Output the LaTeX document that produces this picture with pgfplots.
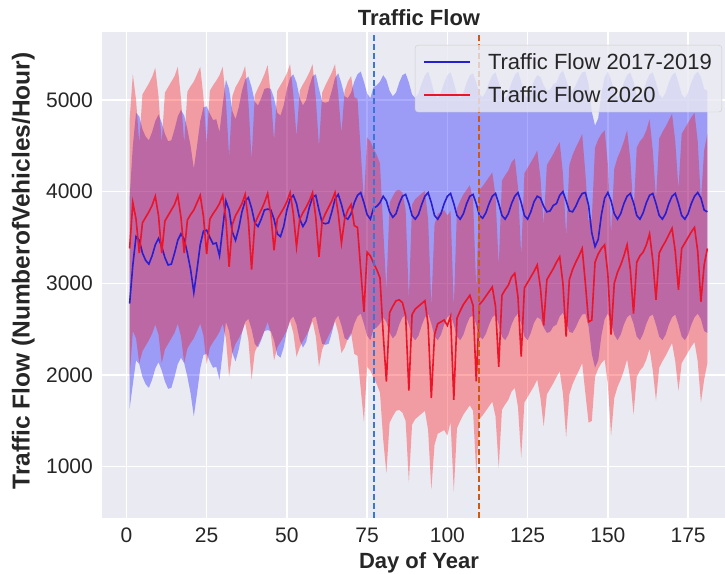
\documentclass[border=0pt]{standalone}
\usepackage{fontspec}
\setmainfont{Liberation Sans}
\usepackage{pgfplots}
\usepackage{pgfplotstable}
\pgfplotsset{compat=1.18}
\usepgfplotslibrary{fillbetween}

\definecolor{bgc}{HTML}{EAEAF2}
\definecolor{vblue}{RGB}{58,118,216}
\definecolor{vorange}{RGB}{205,90,20}
\definecolor{txt}{RGB}{38,38,38}
\definecolor{meanblue}{RGB}{40,30,210}
\definecolor{meanred}{RGB}{235,20,40}

% d: day of year, bm/bs: 2017-2019 mean and std, rm/rs: 2020 mean and std
\pgfplotstableread{
d bm bs rm rs
1 2780 1150 3380 1400
2 3200 1300 3880 1400
3 3510 1350 3700 1300
4 3470 1350 3330 1200
5 3330 1350 3660 1400
6 3250 1350 3720 1400
7 3210 1350 3780 1400
8 3300 1350 3850 1400
9 3420 1350 3950 1400
10 3490 1350 3740 1300
11 3400 1350 3330 1200
12 3280 1350 3680 1400
13 3200 1350 3740 1400
14 3210 1350 3800 1400
15 3330 1350 3860 1400
16 3470 1350 3960 1400
17 3540 1350 3720 1300
18 3480 1350 3330 1200
19 3330 1350 3690 1400
20 3150 1350 3750 1400
21 2900 1350 3800 1400
22 3150 1350 3880 1400
23 3420 1350 3960 1400
24 3570 1350 3730 1300
25 3580 1350 3320 1200
26 3500 1350 3700 1400
27 3430 1350 3760 1400
28 3440 1350 3810 1400
29 3300 1350 3870 1400
30 3600 1350 3960 1400
31 3900 1320 3700 1300
32 3800 1320 3180 1200
33 3560 1320 3640 1400
34 3470 1320 3740 1400
35 3600 1320 3800 1400
36 3780 1320 3870 1400
37 3900 1320 3970 1400
38 3935 1320 3680 1300
39 3820 1320 3150 1200
40 3660 1320 3650 1400
41 3620 1320 3730 1400
42 3700 1320 3800 1400
43 3800 1320 3880 1400
44 3810 1320 3980 1400
45 3800 1320 3750 1300
46 3700 1320 3360 1200
47 3540 1320 3700 1400
48 3510 1320 3760 1400
49 3620 1320 3820 1400
50 3800 1320 3890 1400
51 3920 1320 3990 1400
52 3960 1320 3760 1300
53 3870 1320 3400 1200
54 3700 1320 3700 1400
55 3620 1320 3770 1400
56 3680 1320 3830 1400
57 3830 1320 3900 1400
58 3940 1320 3990 1400
59 3960 1320 3720 1300
60 3800 1320 3290 1200
61 3660 1320 3680 1400
62 3650 1320 3760 1400
63 3660 1320 3830 1400
64 3780 1320 3900 1400
65 3920 1320 3990 1400
66 3970 1320 3760 1300
67 3860 1320 3440 1200
68 3720 1320 3700 1400
69 3700 1320 3800 1400
70 3760 1320 3860 1400
71 3880 1320 3630 1400
72 3960 1320 3610 1400
73 3990 1320 3150 1300
74 3880 1320 2690 1200
75 3750 1320 3340 1250
76 3700 1320 3300 1250
77 3820 1320 3220 1250
78 3840 1320 3150 1250
79 3880 1320 3060 1250
80 3950 1320 2450 1150
81 3900 1320 1930 1000
82 3780 1320 2680 1200
83 3720 1320 2750 1200
84 3760 1320 2810 1200
85 3870 1320 2820 1200
86 3950 1320 2790 1200
87 3970 1320 2650 1150
88 3870 1320 1830 1000
89 3740 1320 2660 1200
90 3700 1320 2720 1200
91 3750 1320 2750 1200
92 3860 1320 2780 1200
93 3950 1320 2810 1200
94 3990 1320 2550 1150
95 3880 1320 1750 1000
96 3740 1320 2440 1200
97 3700 1320 2560 1200
98 3760 1320 2580 1200
99 3870 1320 2600 1200
100 3950 1320 2540 1200
101 3980 1320 2640 1150
102 3870 1320 1730 1000
103 3740 1320 2620 1200
104 3700 1320 2700 1200
105 3760 1320 2770 1200
106 3870 1320 2820 1200
107 3950 1320 2870 1200
108 3970 1320 2760 1150
109 3870 1320 1930 1000
110 3740 1320 2770 1250
111 3710 1320 2810 1250
112 3770 1320 2860 1250
113 3870 1320 2910 1250
114 3950 1320 2960 1250
115 3980 1320 2750 1200
116 3870 1320 2090 1100
117 3740 1320 2870 1250
118 3700 1320 2930 1250
119 3760 1320 2980 1250
120 3870 1320 3070 1250
121 3950 1320 3110 1250
122 3990 1320 2850 1200
123 3880 1320 2200 1100
124 3740 1320 2950 1250
125 3700 1320 3010 1250
126 3780 1320 3070 1250
127 3890 1320 3130 1250
128 3950 1320 3200 1250
129 3930 1320 2950 1200
130 3840 1320 2540 1100
131 3780 1320 3040 1250
132 3790 1320 3100 1250
133 3850 1320 3160 1250
134 3870 1320 3230 1250
135 3960 1320 3290 1250
136 4000 1320 3000 1200
137 3900 1320 2420 1100
138 3790 1320 3040 1250
139 3780 1320 3150 1250
140 3840 1320 3230 1250
141 3920 1320 3300 1250
142 3980 1320 3380 1250
143 3990 1320 3000 1200
144 3850 1320 2580 1100
145 3550 1320 2600 1100
146 3400 1320 3230 1250
147 3480 1320 3320 1250
148 3750 1320 3380 1250
149 3930 1320 3420 1250
150 3990 1320 3100 1200
151 3900 1320 2440 1100
152 3760 1320 3000 1250
153 3700 1320 3120 1250
154 3760 1320 3200 1250
155 3870 1320 3300 1250
156 3950 1320 3420 1250
157 3980 1320 3150 1200
158 3880 1320 2670 1100
159 3740 1320 3230 1250
160 3700 1320 3300 1250
161 3770 1320 3340 1250
162 3880 1320 3420 1250
163 3960 1320 3540 1250
164 3980 1320 3250 1200
165 3870 1320 2820 1100
166 3740 1320 3330 1250
167 3700 1320 3400 1250
168 3760 1320 3460 1250
169 3870 1320 3530 1250
170 3950 1320 3600 1250
171 3980 1320 3350 1200
172 3870 1320 2930 1100
173 3740 1320 3380 1250
174 3700 1320 3440 1250
175 3760 1320 3500 1250
176 3870 1320 3560 1250
177 3950 1320 3610 1250
178 3990 1320 3350 1200
179 3930 1320 2800 1100
180 3800 1320 3200 1250
181 3780 1320 3380 1250
}\traffic

\begin{document}
\begin{tikzpicture}
\begin{axis}[
  at={(0,0)}, anchor=south west,
  width=623.3bp, height=486bp, scale only axis,
  xmin=-7.7, xmax=186.5, ymin=441, ymax=5741,
  xtick={0,25,...,175}, ytick={1000,2000,...,5000},
  axis background/.style={fill=bgc},
  axis line style={draw=none},
  major tick length=0pt,
  grid=major, grid style={white, line width=1.5bp},
  /pgf/number format/1000 sep={},
  /pgf/number format/assume math mode=true,
  tick label style={font=\fontsize{21bp}{24bp}\selectfont, text=txt},
  xticklabel style={anchor=base, yshift=-24bp},
  yticklabel style={anchor=east, inner sep=0pt, xshift=-8.7bp},
  title={Traffic Flow},
  title style={at={(rel axis cs:0.509,1.002)}, anchor=base,
    font=\bfseries\fontsize{22bp}{26bp}\selectfont, text=txt},
  xlabel={Day of Year},
  xlabel style={at={(rel axis cs:0.509,-0.1029)}, anchor=base,
    font=\bfseries\fontsize{22bp}{26bp}\selectfont, text=txt},
  ylabel={Traffic Flow (NumberofVehicles/Hour)},
  ylabel style={at={(rel axis cs:-0.1155,0.508)}, anchor=base,
    font=\bfseries\fontsize{24.5bp}{28bp}\selectfont, text=txt},
  legend cell align=left,
  legend image code/.code={%
    \path[draw=none, fill=none] (0bp,-1bp) rectangle (62bp,1bp);
    \draw[#1, line width=1.8bp] (0bp,0bp) -- (46bp,0bp);},
  legend style={at={(rel axis cs:0.9952,0.9733)}, anchor=north east,
    fill=bgc, fill opacity=0.8, text opacity=1, draw=black!20,
    rounded corners=3bp, inner xsep=8bp, inner ysep=6.5bp, row sep=11bp,
    font=\fontsize{22bp}{26bp}\selectfont, text=txt},
]
% bands: mean +/- one standard deviation
\addplot[draw=none, name path=bu, forget plot] table[x=d, y expr=\thisrow{bm}+\thisrow{bs}] {\traffic};
\addplot[draw=none, name path=bl, forget plot] table[x=d, y expr=\thisrow{bm}-\thisrow{bs}] {\traffic};
\addplot[draw=none, name path=ru, forget plot] table[x=d, y expr=\thisrow{rm}+\thisrow{rs}] {\traffic};
\addplot[draw=none, name path=rl, forget plot] table[x=d, y expr=\thisrow{rm}-\thisrow{rs}] {\traffic};
\addplot[fill=blue, fill opacity=0.33, draw=none, forget plot] fill between[of=bu and bl];
\addplot[fill=red, fill opacity=0.33, draw=none, forget plot] fill between[of=ru and rl];
% daily means
\addplot[meanblue, line width=1.6bp] table[x=d, y=bm] {\traffic};
\addlegendentry{Traffic Flow 2017-2019}
\addplot[meanred, line width=1.6bp] table[x=d, y=rm] {\traffic};
\addlegendentry{Traffic Flow 2020}
% reference dates
\addplot[vblue, line width=2bp, dash pattern=on 6bp off 3bp, forget plot] coordinates {(77,441) (77,5741)};
\addplot[vorange, line width=2bp, dash pattern=on 6bp off 3bp, forget plot] coordinates {(110,441) (110,5741)};
\end{axis}
\pgfresetboundingbox
\useasboundingbox (-101.7bp,-56bp) rectangle (623.3bp,518bp);
\end{tikzpicture}
\end{document}
